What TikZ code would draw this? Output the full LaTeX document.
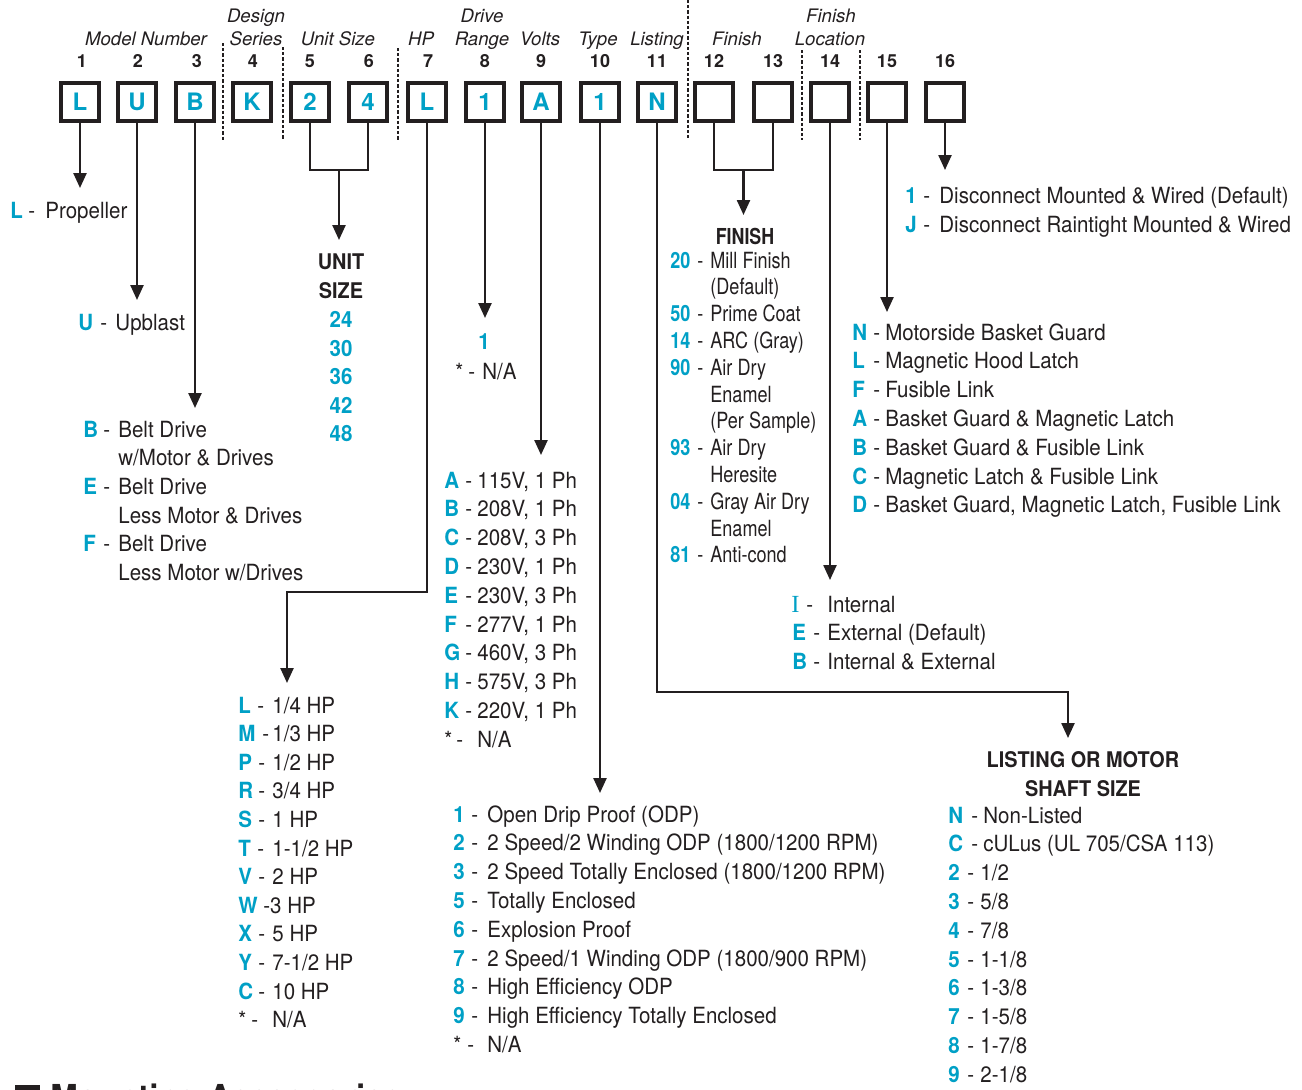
\documentclass[tikz,border=0pt]{standalone}
\usepackage{fontspec}
\setmainfont{TeX Gyre Heros}[FakeStretch=0.92]
\newfontfamily\hel{TeX Gyre Heros}
\newfontfamily\narrowf{TeX Gyre Heros}[FakeStretch=0.81]
\newfontfamily\tser{Liberation Serif}
\usetikzlibrary{arrows.meta,calc}
\definecolor{cy}{RGB}{0,160,198}
\definecolor{ink}{RGB}{35,31,32}
% name, codex, dashx, textx, y, code, text
\newcommand\lrow[7]{%
  \node[code] (#1c) at (#2,#5) {#6};
  \node[txt] (#1d) at (#3,#5) {-};
  \node[txt] (#1) at (#4,#5) {#7};}
\newcommand\frow[7]{%
  \node[code,font=\narrowf\bfseries\fontsize{11.15}{13}\selectfont] (#1c) at (#2,#5) {#6};
  \node[ntxt] (#1d) at (#3,#5) {-};
  \node[ntxt] (#1) at (#4,#5) {#7};}
\begin{document}
\begin{tikzpicture}[x=0.5pt,y=-0.5pt,
  cbox/.style={draw=ink,line width=2pt,minimum size=19pt,inner sep=0pt,text=cy,font=\hel\bfseries\fontsize{12}{12}\selectfont},
  hdr/.style={anchor=base,inner sep=0pt,text=ink,font=\hel\itshape\fontsize{9.3}{10}\selectfont},
  num/.style={anchor=base,inner sep=0pt,text=ink,font=\hel\bfseries\fontsize{9}{10}\selectfont},
  txt/.style={anchor=base west,inner sep=0pt,text=ink,font=\fontsize{11.15}{13}\selectfont},
  ntxt/.style={txt,font=\narrowf\fontsize{11.15}{13}\selectfont},
  code/.style={txt,text=cy,font=\bfseries\fontsize{11.15}{13}\selectfont},
  ttl/.style={anchor=base,inner sep=0pt,text=ink,font=\bfseries\fontsize{10.8}{12}\selectfont},
  ccode/.style={anchor=base,inner sep=0pt,text=cy,font=\bfseries\fontsize{11.15}{13}\selectfont},
  conn/.style={draw=ink,line width=1.2pt},
  arr/.style={conn,-{Triangle[length=7.5pt,width=6.5pt]}},
  sepl/.style={draw=ink,line width=0.6pt,dash pattern=on 1.6pt off 1pt}]
\useasboundingbox[fill=white] (0,0) rectangle (1302,1089);

% ---------- header labels ----------
\node[hdr] (hModel) at (146,45) {Model Number};
\node[hdr] (hDesign) at (256,22) {Design};
\node[hdr] (hSeries) at (256,45) {Series};
\node[hdr] (hUnit) at (338,45) {Unit Size};
\node[hdr] (hHP) at (421,45) {HP};
\node[hdr] (hDrive) at (482,22) {Drive};
\node[hdr] (hRange) at (482,45) {Range};
\node[hdr] (hVolts) at (540,45) {Volts};
\node[hdr] (hType) at (598,45) {Type};
\node[hdr] (hListing) at (657,45) {Listing};
\node[hdr] (hFinish) at (737,45) {Finish};
\node[hdr] (hFinL) at (831,22) {Finish};
\node[hdr] (hLoc) at (830,45) {Location};

% ---------- dashed separators ----------
\draw[sepl] (223,43) -- (223,140);
\draw[sepl] (283,47) -- (283,140);
\draw[sepl] (398,48) -- (398,140);
\draw[sepl] (688,0) -- (688,140);
\draw[sepl] (802,50) -- (802,140);
\draw[sepl] (860,50) -- (860,140);

% ---------- boxes and numbers ----------
\foreach \i/\x/\t in {1/80/L,2/137/U,3/195/B,4/252/K,5/310/2,6/368/4,7/427/L,8/485/1,9/541/A,10/600/1,11/657/N,12/714/,13/773/,14/830/,15/887/,16/945/}{
  \node[cbox] (b\i) at (\x,102) {\t};
}
\foreach \i/\x in {1/82,2/138,3/197,4/253,5/310,6/369,7/428,8/485,9/541,10/600,11/657,12/714,13/773,14/830,15/887,16/945}{
  \node[num] (n\i) at (\x,67) {\i};
}

% ---------- 1: Propeller ----------
\lrow{p1}{10}{28}{45}{218}{L}{Propeller}
\coordinate (a1) at (80,188);
\draw[arr] (b1.south) -- (b1.south |- a1);

% ---------- 2: Upblast ----------
\lrow{u1}{78}{100}{115}{330}{U}{Upblast}
\coordinate (a2) at (137,300);
\draw[arr] (b2.south) -- (b2.south |- a2);

% ---------- 3: drive ----------
\lrow{d1}{83}{103}{118}{437}{B}{Belt Drive}
\node[txt] (d2) at (118,465.7) {w/Motor \& Drives};
\lrow{d3}{83}{103}{118}{494.4}{E}{Belt Drive}
\node[txt] (d4) at (118,523.1) {Less Motor \& Drives};
\lrow{d5}{83}{103}{118}{551.8}{F}{Belt Drive}
\node[txt] (d6) at (118,580.5) {Less Motor w/Drives};
\coordinate (a3) at (195,408);
\draw[arr] (b3.south) -- (b3.south |- a3);

% ---------- 5-6: unit size ----------
\draw[conn] (b5.south) -- ++(0,47) -| (b6.south);
\coordinate (j56) at ($(b5.south)!0.5!(b6.south)+(0,47)$);
\coordinate (a56) at (339,240);
\draw[arr] (j56) -- (j56 |- a56);
\node[ttl] (us1) at (341,269) {UNIT};
\node[ttl] (us2) at (341,298) {SIZE};
\node[ccode] (us3) at (341,327) {24};
\node[ccode] (us4) at (341,356) {30};
\node[ccode] (us5) at (341,384) {36};
\node[ccode] (us6) at (341,413) {42};
\node[ccode] (us7) at (341,441) {48};

% ---------- 7: HP ----------
\coordinate (a7) at (287,683);
\draw[arr] (b7.south) -- ++(0,469) -| (a7);
\lrow{hp1}{238}{257}{272}{713}{L}{1/4 HP}
\lrow{hp2}{238}{262}{272}{741.6}{M}{1/3 HP}
\lrow{hp3}{238}{258}{272}{770.2}{P}{1/2 HP}
\lrow{hp4}{238}{258}{272}{798.8}{R}{3/4 HP}
\lrow{hp5}{238}{258}{272}{827.4}{S}{1 HP}
\lrow{hp6}{238}{257}{272}{856}{T}{1-1/2 HP}
\lrow{hp7}{238}{258}{272}{884.6}{V}{2 HP}
\node[code] (hp8c) at (238,913.2) {W};
\node[txt] (hp8) at (263,913.2) {-3 HP};
\lrow{hp9}{238}{258}{272}{941.8}{X}{5 HP}
\lrow{hp10}{238}{258}{272}{970.4}{Y}{7-1/2 HP}
\lrow{hp11}{238}{258}{272}{999}{C}{10 HP}
\node[txt] (hp12c) at (238,1027.6) {*};
\node[txt] (hp12d) at (251,1027.6) {-};
\node[txt] (hp12) at (272,1027.6) {N/A};

% ---------- 8: drive range ----------
\coordinate (a8) at (485,318);
\draw[arr] (b8.south) -- (b8.south |- a8);
\node[ccode] (dr1) at (484,349) {1};
\node[txt] (dr2c) at (455,379) {*};
\node[txt] (dr2d) at (468,379) {-};
\node[txt] (dr2) at (482,379) {N/A};

% ---------- 9: volts ----------
\coordinate (a9) at (541,455);
\draw[arr] (b9.south) -- (b9.south |- a9);
\lrow{v1}{444}{465}{477}{488}{A}{115V, 1 Ph}
\lrow{v2}{444}{465}{477}{516.8}{B}{208V, 1 Ph}
\lrow{v3}{444}{465}{477}{545.6}{C}{208V, 3 Ph}
\lrow{v4}{444}{465}{477}{574.4}{D}{230V, 1 Ph}
\lrow{v5}{444}{465}{477}{603.2}{E}{230V, 3 Ph}
\lrow{v6}{444}{465}{477}{632}{F}{277V, 1 Ph}
\lrow{v7}{444}{465}{477}{660.8}{G}{460V, 3 Ph}
\lrow{v8}{444}{465}{477}{689.6}{H}{575V, 3 Ph}
\lrow{v9}{444}{465}{477}{718.4}{K}{220V, 1 Ph}
\node[txt] (v10c) at (444,747.2) {*};
\node[txt] (v10d) at (456,747.2) {-};
\node[txt] (v10) at (477,747.2) {N/A};

% ---------- 10: type ----------
\coordinate (a10) at (600,793);
\draw[arr] (b10.south) -- (b10.south |- a10);
\lrow{t1}{453}{471}{487}{822}{1}{Open Drip Proof (ODP)}
\lrow{t2}{453}{471}{487}{850.8}{2}{2 Speed/2 Winding ODP (1800/1200 RPM)}
\lrow{t3}{453}{471}{487}{879.6}{3}{2 Speed Totally Enclosed (1800/1200 RPM)}
\lrow{t4}{453}{471}{487}{908.4}{5}{Totally Enclosed}
\lrow{t5}{453}{471}{487}{937.2}{6}{Explosion Proof}
\lrow{t6}{453}{471}{487}{966}{7}{2 Speed/1 Winding ODP (1800/900 RPM)}
\lrow{t7}{453}{471}{487}{994.8}{8}{High Efficiency ODP}
\lrow{t8}{453}{471}{487}{1023.6}{9}{High Efficiency Totally Enclosed}
\node[txt] (t9c) at (453,1052.4) {*};
\node[txt] (t9d) at (467,1052.4) {-};
\node[txt] (t9) at (487,1052.4) {N/A};

% ---------- 11: listing ----------
\coordinate (a11) at (1068,738);
\draw[arr] (b11.south) -- ++(0,569) -| (a11);
\node[ttl] (ls1) at (1083,767) {LISTING OR MOTOR};
\node[ttl] (ls2) at (1083,796) {SHAFT SIZE};
\lrow{l1}{948}{971}{983}{823}{N}{Non-Listed}
\lrow{l2}{948}{971}{983}{851.8}{C}{cULus (UL 705/CSA 113)}
\lrow{l3}{948}{967}{980}{880.6}{2}{1/2}
\lrow{l4}{948}{967}{980}{909.4}{3}{5/8}
\lrow{l5}{948}{967}{980}{938.2}{4}{7/8}
\lrow{l6}{948}{967}{980}{967}{5}{1-1/8}
\lrow{l7}{948}{967}{980}{995.8}{6}{1-3/8}
\lrow{l8}{948}{967}{980}{1024.6}{7}{1-5/8}
\lrow{l9}{948}{967}{980}{1053.4}{8}{1-7/8}
\lrow{l10}{948}{967}{980}{1082.2}{9}{2-1/8}

% ---------- 12-13: finish ----------
\draw[conn] (b12.south) -- ++(0,47) -| (b13.south);
\coordinate (j1213) at ($(b12.south)!0.5!(b13.south)+(0,47)$);
\coordinate (a1213) at (744,215);
\draw[arr] (j1213) -- (j1213 |- a1213);
\node[ttl,font=\narrowf\bfseries\fontsize{11}{12}\selectfont] (fi0) at (745,244) {FINISH};
\frow{f1}{670}{697}{710}{268}{20}{Mill Finish}
\node[ntxt] (f2) at (710,294.8) {(Default)};
\frow{f3}{670}{697}{710}{321.6}{50}{Prime Coat}
\frow{f4}{670}{697}{710}{348.4}{14}{ARC (Gray)}
\frow{f5}{670}{697}{710}{375.2}{90}{Air Dry}
\node[ntxt] (f6) at (710,402) {Enamel};
\node[ntxt] (f7) at (710,428.8) {(Per Sample)};
\frow{f8}{670}{697}{710}{455.6}{93}{Air Dry}
\node[ntxt] (f9) at (710,482.4) {Heresite};
\frow{f10}{670}{697}{710}{509.2}{04}{Gray Air Dry}
\node[ntxt] (f11) at (710,536) {Enamel};
\frow{f12}{670}{697}{710}{562.8}{81}{Anti-cond}

% ---------- 14: finish location ----------
\coordinate (a14) at (830,580);
\draw[arr] (b14.south) -- (b14.south |- a14);
\node[code,font=\tser\fontsize{12.3}{13}\selectfont] (fl1c) at (791,612) {I};
\node[txt] (fl1d) at (806,612) {-};
\node[txt] (fl1) at (827,612) {Internal};
\lrow{fl2}{792}{813}{827}{640.8}{E}{External (Default)}
\lrow{fl3}{792}{813}{827}{669.6}{B}{Internal \& External}

% ---------- 15: accessories ----------
\coordinate (a15) at (887,312);
\draw[arr] (b15.south) -- (b15.south |- a15);
\lrow{g1}{852}{873}{885}{340}{N}{Motorside Basket Guard}
\lrow{g2}{852}{873}{885}{368.8}{L}{Magnetic Hood Latch}
\lrow{g3}{852}{873}{885}{397.6}{F}{Fusible Link}
\lrow{g4}{852}{873}{885}{426.4}{A}{Basket Guard \& Magnetic Latch}
\lrow{g5}{852}{873}{885}{455.2}{B}{Basket Guard \& Fusible Link}
\lrow{g6}{852}{873}{885}{484}{C}{Magnetic Latch \& Fusible Link}
\lrow{g7}{852}{873}{885}{512.8}{D}{Basket Guard, Magnetic Latch, Fusible Link}

% ---------- 16: disconnect ----------
\coordinate (a16) at (945,170);
\draw[arr] (b16.south) -- (b16.south |- a16);
\lrow{k1}{905}{923}{939}{203}{1}{Disconnect Mounted \& Wired (Default)}
\lrow{k2}{905}{923}{939}{232}{J}{Disconnect Raintight Mounted \& Wired}

% ---------- next heading (cut by page edge, as in the reference) ----------
\fill[ink] (15,1085) rectangle (40,1110);
\node[anchor=base west,inner sep=0pt,text=ink,font=\hel\bfseries\fontsize{16.5}{18}\selectfont] (mh) at (50,1108) {Mounting Accessories};
\end{tikzpicture}
\end{document}
